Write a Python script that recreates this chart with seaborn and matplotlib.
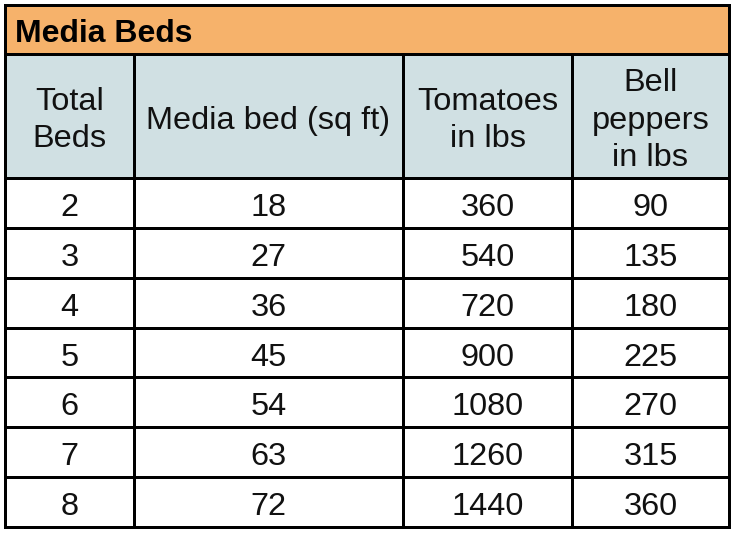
import matplotlib
matplotlib.use("Agg")
import matplotlib.pyplot as plt
from matplotlib.patches import Rectangle
import seaborn as sns

title = "Media Beds"
headers = ["Total\nBeds", "Media bed (sq ft)", "Tomatoes\nin lbs", "Bell\npeppers\nin lbs"]
total_beds = [2, 3, 4, 5, 6, 7, 8]
media_bed_sqft = [18, 27, 36, 45, 54, 63, 72]
tomatoes_lbs = [360, 540, 720, 900, 1080, 1260, 1440]
peppers_lbs = [90, 135, 180, 225, 270, 315, 360]

sns.set_theme(style="white")
plt.rcParams['font.family'] = ['Liberation Sans', 'DejaVu Sans']

W, H = 736, 536
fig = plt.figure(figsize=(W / 100, H / 100), dpi=100)
ax = fig.add_axes([0, 0, 1, 1])
ax.set_xlim(0, W)
ax.set_ylim(H, 0)
ax.axis("off")

col_edges = [5, 134, 403, 572, 729]
y_top, y_title, y_head, y_bot = 5, 54, 178, 527
n = len(total_beds)
row_h = (y_bot - y_head) / n

title_color = "#F6B26B"
head_color = "#D0E0E3"
lw_px = 3
lw = lw_px * 72 / 100
fs = 23.4
txt_color = "#111111"

ax.add_patch(Rectangle((col_edges[0], y_top), col_edges[-1] - col_edges[0], y_title - y_top,
                       facecolor=title_color, edgecolor="none", zorder=1))
ax.add_patch(Rectangle((col_edges[0], y_title), col_edges[-1] - col_edges[0], y_head - y_title,
                       facecolor=head_color, edgecolor="none", zorder=1))

ax.text(15, (y_top + y_title) / 2 + 4, title, fontsize=23, fontweight="bold",
        ha="left", va="center", color="black", zorder=3)

for i, h in enumerate(headers):
    cx = (col_edges[i] + col_edges[i + 1]) / 2
    ax.text(cx, (y_title + y_head) / 2 + 4.5, h, fontsize=fs, ha="center", va="center",
            linespacing=1.34, color=txt_color, zorder=3)

cols = [total_beds, media_bed_sqft, tomatoes_lbs, peppers_lbs]
for r in range(n):
    cy = y_head + (r + 0.5) * row_h + 5
    for c, vals in enumerate(cols):
        cx = (col_edges[c] + col_edges[c + 1]) / 2
        ax.text(cx, cy, str(vals[r]), fontsize=fs, ha="center", va="center",
                color=txt_color, zorder=3)

# grid lines
kw = dict(color="black", linewidth=lw, solid_capstyle="projecting", zorder=4)
for y in [y_top, y_title, y_head] + [y_head + k * row_h for k in range(1, n + 1)]:
    ax.plot([col_edges[0], col_edges[-1]], [y, y], **kw)
ax.plot([col_edges[0], col_edges[0]], [y_top, y_bot], **kw)
ax.plot([col_edges[-1], col_edges[-1]], [y_top, y_bot], **kw)
for x in col_edges[1:-1]:
    ax.plot([x, x], [y_title, y_bot], **kw)

fig.savefig("out.png", dpi=100, facecolor="white")
